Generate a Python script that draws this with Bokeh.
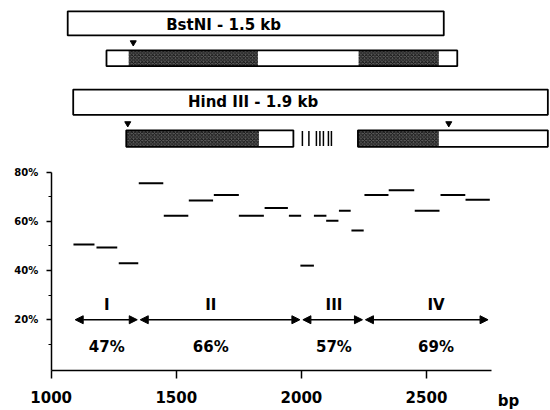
from bokeh.plotting import figure
from bokeh.models import (FixedTicker, PrintfTickFormatter, Arrow, NormalHead,
                          ColumnDataSource, Range1d, LinearAxis)
from bokeh.core.properties import value
from bokeh.embed import file_html
from bokeh.resources import INLINE

# ---------------- data ----------------
# GC content in sliding windows (bp start / end, % GC)
win_start = [1089, 1181, 1270, 1350, 1450, 1550, 1650, 1750, 1853, 1950,
             1996, 2050, 2099, 2150, 2200, 2252, 2349, 2453, 2556, 2656]
win_end = [1173, 1264, 1348, 1448, 1548, 1647, 1750, 1850, 1946, 1999,
           2050, 2100, 2148, 2197, 2249, 2348, 2451, 2552, 2655, 2753]
gc_pct = [50.6, 49.4, 43.0, 75.5, 62.3, 68.5, 70.7, 62.3, 65.4, 62.3,
          42.0, 62.3, 60.2, 64.3, 56.3, 70.7, 72.6, 64.3, 70.7, 68.8]

# regions
region_names = ["I", "II", "III", "IV"]
region_start = [1090, 1350, 2000, 2250]
region_end = [1350, 2000, 2250, 2752]
region_gc = ["47%", "66%", "57%", "69%"]
region_label_bp = [1222, 1638, 2130, 2538]

# axis ticks
x_ticks = [1000, 1500, 2000, 2500]
x_unit = "bp"
y_ticks = [20, 40, 60, 80]
y_minor = [10, 30, 50, 70]

# restriction fragments (bp)
bstni_frag = [1066, 2569]
bstni_title = "BstNI - 1.5 kb"
bstni_map = [1221, 2623]
bstni_stipple_start = [1310, 2229]
bstni_stipple_end = [1826, 2549]
bstni_sites = [1328]

hind_frag = [1088, 2985]
hind_title = "Hind III - 1.9 kb"
hind_map_start = [1300, 2226]
hind_map_end = [1968, 2985]
hind_stipple_start = [1300, 2226]
hind_stipple_end = [1830, 2549]
hind_sites = [1306, 2589]
hind_ticks = [2004, 2030, 2060, 2074, 2088, 2108, 2120]

# ---------------- figure ----------------
FONT = value("DejaVu Sans")
Y0 = -0.6   # level of the bp axis
X0 = 1000   # position of the % axis

p = figure(width=550, height=410, output_backend="svg", toolbar_location=None,
           x_range=Range1d(797.4, 2995.6), y_range=Range1d(-16.9, 149.8),
           min_border_left=0, min_border_right=0, min_border_top=0,
           min_border_bottom=0, x_axis_type=None, y_axis_type=None)
p.outline_line_color = None
p.background_fill_color = "white"
p.border_fill_color = "white"

# axes
yax = LinearAxis(ticker=FixedTicker(ticks=y_ticks, minor_ticks=y_minor),
                 formatter=PrintfTickFormatter(format="%d%%"),
                 fixed_location=X0)
yax.bounds = (Y0, 80)
yax.axis_line_width = 1.5
yax.major_tick_out = 5
yax.major_tick_in = 0
yax.minor_tick_out = 3
yax.minor_tick_in = 0
yax.major_tick_line_width = 1.5
yax.minor_tick_line_width = 1.2
yax.major_label_standoff = 8
yax.major_label_text_font = "DejaVu Sans"
yax.major_label_text_font_style = "bold"
yax.major_label_text_font_size = "10px"
yax.major_label_text_color = "black"
p.add_layout(yax, "left")

xax = LinearAxis(ticker=FixedTicker(ticks=x_ticks, minor_ticks=[]),
                 fixed_location=Y0)
xax.bounds = (1000, 2760)
xax.axis_line_width = 1.5
xax.major_tick_out = 8
xax.major_tick_in = 0
xax.major_tick_line_width = 1.5
xax.major_label_standoff = 13
xax.major_label_text_font = "DejaVu Sans"
xax.major_label_text_font_style = "bold"
xax.major_label_text_font_size = "15px"
xax.major_label_text_color = "black"
p.add_layout(xax, "below")

p.text(x=[2828], y=[-12.9], text=[x_unit], text_font=FONT, text_font_style="bold",
       text_font_size="15px", text_align="center", text_baseline="middle",
       text_color="black")

# GC windows
p.segment(x0=win_start, x1=win_end, y0=gc_pct, y1=gc_pct,
          line_color="black", line_width=2)

# region arrows
inset = 6
arr_src = ColumnDataSource(dict(
    x0=[s + inset for s in region_start], x1=[e - inset for e in region_end],
    y=[20] * len(region_start)))
p.add_layout(Arrow(source=arr_src, x_start="x0", x_end="x1", y_start="y", y_end="y",
                   start=NormalHead(size=8, fill_color="black", line_width=1),
                   end=NormalHead(size=8, fill_color="black", line_width=1),
                   line_width=1.5, line_color="black"))

lab_src = ColumnDataSource(dict(x=region_label_bp, name=region_names, gc=region_gc,
                                yn=[25.8] * 4, yg=[9.1] * 4))
p.text(x="x", y="yn", text="name", source=lab_src, text_font=FONT,
       text_font_style="bold", text_font_size="15px", text_align="center",
       text_baseline="middle", text_color="black")
p.text(x="x", y="yg", text="gc", source=lab_src, text_font=FONT,
       text_font_style="bold", text_font_size="15px", text_align="center",
       text_baseline="middle", text_color="black")

# ---------------- maps ----------------
STIP = dict(fill_color="#5e5e5e", hatch_pattern="x", hatch_color="#111111",
            hatch_scale=3.5, hatch_weight=0.9, line_color=None)

# BstNI fragment box
p.quad(left=[bstni_frag[0]], right=[bstni_frag[1]], bottom=[135.6], top=[145.4],
       fill_color="white", line_color="black", line_width=1.8)
p.text(x=[1689], y=[139.9], text=[bstni_title],
       text_font=FONT, text_font_style="bold", text_font_size="15px",
       text_align="center", text_baseline="middle", text_color="black")
p.scatter(x=bstni_sites, y=[132.7] * len(bstni_sites), marker="inverted_triangle",
          size=6, fill_color="black", line_color="black")
p.quad(left=[bstni_map[0]], right=[bstni_map[1]], bottom=[123.1], top=[129.5],
       fill_color="white", line_color=None)
p.quad(left=bstni_stipple_start, right=bstni_stipple_end, bottom=[123.1] * 2,
       top=[129.5] * 2, **STIP)
p.quad(left=[bstni_map[0]], right=[bstni_map[1]], bottom=[123.1], top=[129.5],
       fill_color=None, line_color="black", line_width=1.8)

# Hind III fragment box
p.quad(left=[hind_frag[0]], right=[hind_frag[1]], bottom=[103.3], top=[113.6],
       fill_color="white", line_color="black", line_width=1.8)
p.text(x=[1807], y=[108.5], text=[hind_title],
       text_font=FONT, text_font_style="bold", text_font_size="15px",
       text_align="center", text_baseline="middle", text_color="black")
p.scatter(x=hind_sites, y=[99.8] * len(hind_sites), marker="inverted_triangle",
          size=6, fill_color="black", line_color="black")
p.quad(left=hind_map_start, right=hind_map_end, bottom=[90.3] * 2, top=[97.0] * 2,
       fill_color="white", line_color=None)
p.quad(left=hind_stipple_start, right=hind_stipple_end, bottom=[90.3] * 2,
       top=[97.0] * 2, **STIP)
p.quad(left=hind_map_start, right=hind_map_end, bottom=[90.3] * 2, top=[97.0] * 2,
       fill_color=None, line_color="black", line_width=1.8)
p.segment(x0=hind_ticks, x1=hind_ticks, y0=[90.6] * len(hind_ticks),
          y1=[96.7] * len(hind_ticks), line_color="black", line_width=1.5)

open("out.html", "w").write(file_html(p, INLINE))
